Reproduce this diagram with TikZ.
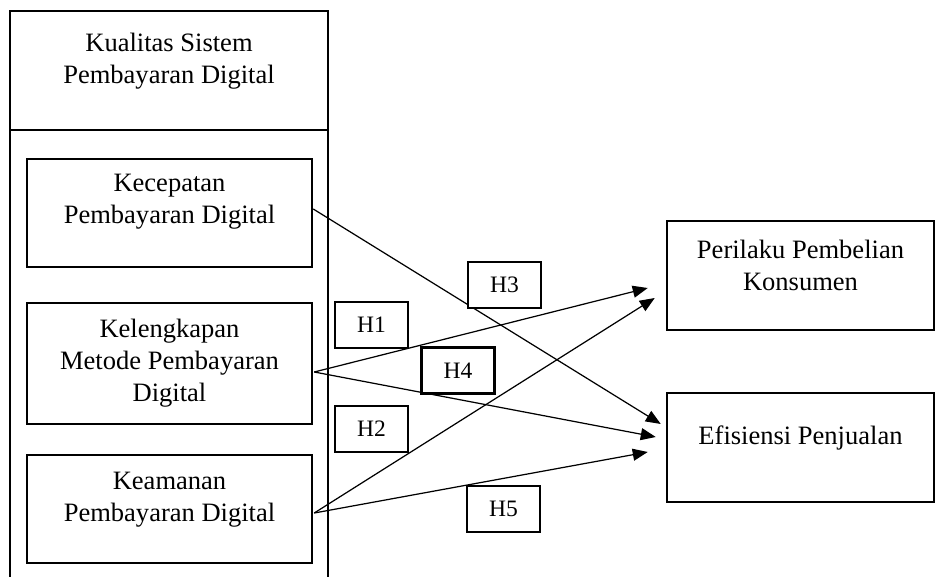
\documentclass[tikz,border=0pt]{standalone}
\usepackage{fontspec}
\setmainfont{Liberation Serif}
\usetikzlibrary{arrows.meta,calc}

\begin{document}
\begin{tikzpicture}[x=0.02cm,y=-0.02cm,font=\fontsize{15.1}{18.4}\selectfont,>={Triangle[length=0.3cm,width=0.24cm]}]
\tikzset{
  varbox/.style={draw,line width=1.45pt,inner sep=0pt},
  lbl/.style={align=center,inner sep=0pt},
  hbox/.style={draw,line width=1.45pt,fill=white,minimum width=1.46cm,minimum height=0.92cm,inner sep=0pt,font=\fontsize{13.4}{15}\selectfont},
  link/.style={->,line width=0.7pt}
}
\useasboundingbox (0,0) rectangle (939,577);

% independent variable column
\draw[line width=0.7pt] (10,130) -- (10,577) (328,130) -- (328,577);
\node[varbox,minimum width=6.36cm,minimum height=2.38cm] (kual) at (169,70.5) {};
\node[lbl] (kual-t) at (169,61) {Kualitas Sistem\\Pembayaran Digital};

\node[varbox,minimum width=5.7cm,minimum height=2.16cm] (kec) at (169.5,213) {};
\node[lbl] (kec-t) at (169.5,202) {Kecepatan\\Pembayaran Digital};

\node[varbox,minimum width=5.7cm,minimum height=2.42cm] (kel) at (169.5,363.5) {};
\node[lbl] (kel-t) at (169.5,363) {Kelengkapan\\Metode Pembayaran\\Digital};

\node[varbox,minimum width=5.7cm,minimum height=2.16cm] (kea) at (169.5,509) {};
\node[lbl] (kea-t) at (169.5,500) {Keamanan\\Pembayaran Digital};

% dependent variables
\node[varbox,minimum width=5.34cm,minimum height=2.18cm] (per) at (800.5,275.5) {};
\node[lbl] (per-t) at (800.5,265.5) {Perilaku Pembelian\\Konsumen};

\node[varbox,minimum width=5.34cm,minimum height=2.18cm] (efi) at (800.5,447.5) {};
\node[lbl] (efi-t) at (800.5,438) {Efisiensi Penjualan};

% hypotheses
\draw[link] ($(kec.east)+(0,-4)$) -- ($(efi.west)+(-5,-23.5)$);
\draw[link] ($(kel.east)+(1,8.5)$) -- ($(per.west)+(-18,12.5)$);
\draw[link] ($(kel.east)+(1,8.5)$) -- ($(efi.west)+(-10,-10.5)$);
\draw[link] ($(kea.east)+(1,4)$) -- ($(per.west)+(-11,22.5)$);
\draw[link] ($(kea.east)+(1,4)$) -- ($(efi.west)+(-18,4.5)$);

\node[hbox] (h1) at (371.5,325) {H1};
\node[hbox] (h2) at (371.5,429) {H2};
\node[hbox] (h3) at (504.5,285) {H3};
\node[hbox] (h4) at (458,370.5) {H4};
\node[hbox] (h5) at (503.5,509) {H5};
\end{tikzpicture}
\end{document}
